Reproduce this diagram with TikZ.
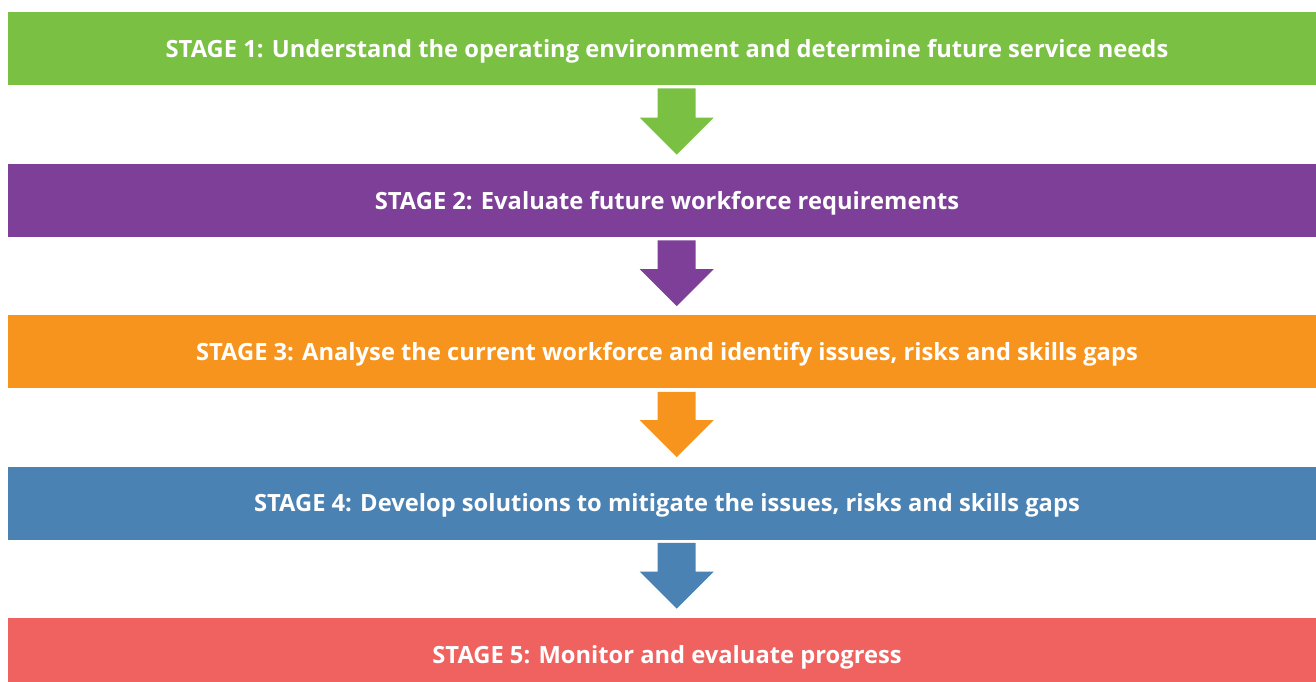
\documentclass[tikz,border=0pt]{standalone}
\usepackage{fontspec}
\setmainfont{Open Sans}
\usepackage{tikz}
\usetikzlibrary{calc}

\definecolor{stgreen}{HTML}{7AC143}
\definecolor{stpurple}{HTML}{7E3F98}
\definecolor{storange}{HTML}{F7941D}
\definecolor{stblue}{HTML}{4A82B4}
\definecolor{stred}{HTML}{F0625F}

\begin{document}
\begin{tikzpicture}[x=0.02cm,y=-0.02cm]
 \tikzstyle{stage} = [minimum width=1318*0.02cm,minimum height=73*0.02cm,inner sep=0pt,
   text height=1.0em,text depth=0pt,
   text=white,font=\fontsize{13.5}{16}\selectfont\bfseries];
 \tikzstyle{stageG} = [fill=stgreen];
 \tikzstyle{stageP} = [fill=stpurple];
 \tikzstyle{stageO} = [fill=storange];
 \tikzstyle{stageB} = [fill=stblue];
 \tikzstyle{stageR} = [fill=stred];

 \useasboundingbox (0,0) rectangle (1316,682);

 \node[stage,stageG,name=s1] at (667,48.5) {STAGE 1: Understand the operating environment and determine future service needs};
 \node[stage,stageP,name=s2] at (667,200.5) {STAGE 2: Evaluate future workforce requirements};
 \node[stage,stageO,name=s3] at (667,352) {STAGE 3: Analyse the current workforce and identify issues, risks and skills gaps};
 \node[stage,stageB,name=s4] at (667,503) {STAGE 4: Develop solutions to mitigate the issues, risks and skills gaps};
 \node[stage,stageR,name=s5] at (667,654.5) {STAGE 5: Monitor and evaluate progress};

 % block arrows between the stages
 \foreach \a/\b/\c in {s1/s2/stgreen,s2/s3/stpurple,s3/s4/storange,s4/s5/stblue} {
  \coordinate (top) at ($(\a.south west)+(669,3)$);
  \coordinate (tip) at ($(\b.north west)+(669,-9)$);
  \fill[\c] (top) ++(-19,0) -- ++(38,0) |- ($(tip)+(37,-37)$)
    -- (tip) -- ($(tip)+(-37,-37)$) -| cycle;
 }
\end{tikzpicture}
\end{document}
